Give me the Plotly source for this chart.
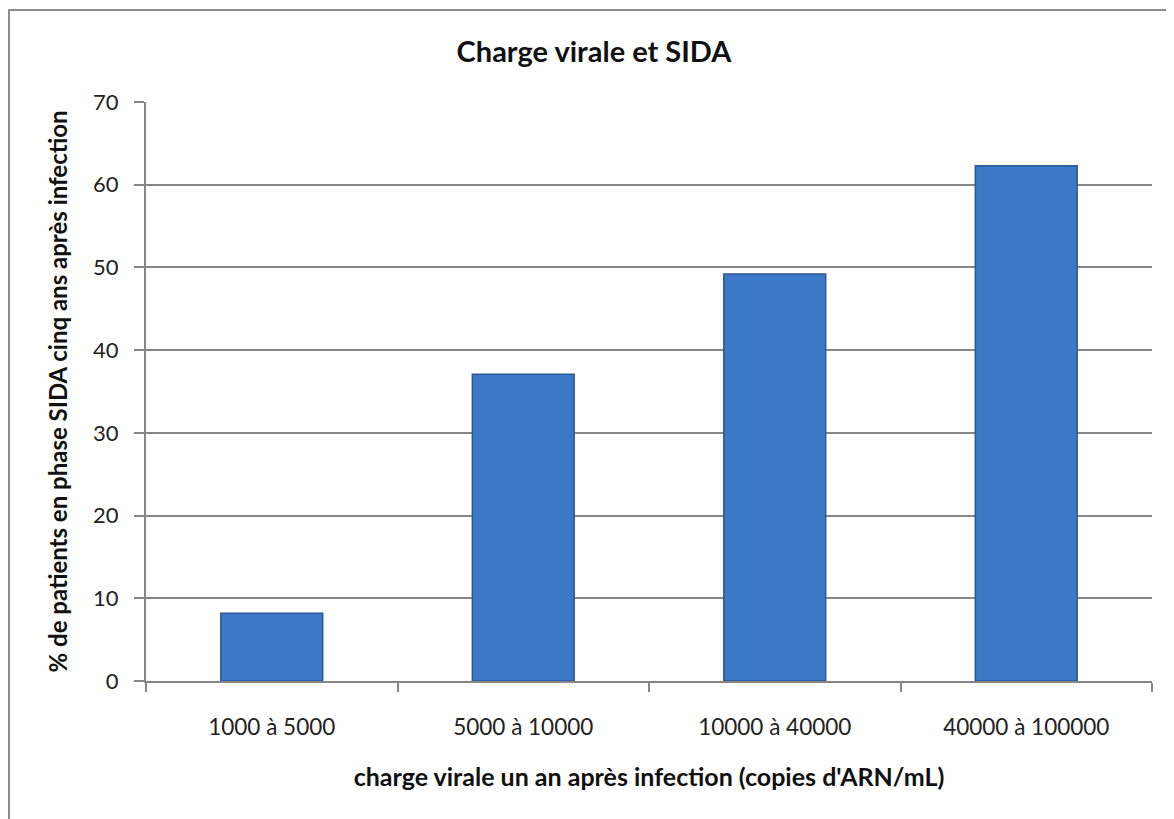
import plotly.graph_objects as go

categories = ["1000 à 5000", "5000 à 10000", "10000 à 40000", "40000 à 100000"]
values = [8.2, 37.1, 49.2, 62.3]
y_ticks = [0, 10, 20, 30, 40, 50, 60, 70]

FONT = "Lato"
L, R, T, B = 138, 30, 94, 146
PW = 1174 - L - R
PH = 819 - T - B

fig = go.Figure()
fig.add_trace(go.Bar(
    x=categories, y=values,
    marker=dict(color="#3b79c7", line=dict(color="#2a5896", width=1.5)),
    width=0.405,
    hoverinfo="x+y",
))

fig.update_layout(
    width=1174, height=819,
    margin=dict(l=L, r=R, t=T, b=B),
    paper_bgcolor="white", plot_bgcolor="white",
    showlegend=False,
    title=dict(text="<b>Charge virale et SIDA</b>", x=586 / 1174, xanchor="center",
               y=1 - 44 / 819, yanchor="middle", yref="container",
               font=dict(family=FONT, size=29, color="#111")),
    font=dict(family=FONT, color="#222"),
)

fig.update_xaxes(
    showline=True, linecolor="#868686", linewidth=2,
    ticks="outside", tickson="boundaries", ticklen=9, tickcolor="#868686", tickwidth=2,
    ticklabelstandoff=25,
    tickfont=dict(family=FONT, size=22.5, color="#222"),
    title=dict(text="<b>charge virale un an après infection (copies d'ARN/mL)</b>",
               font=dict(family=FONT, size=25, color="#111"), standoff=29),
    showgrid=False,
)
fig.update_yaxes(
    range=[0, 70], tickvals=y_ticks,
    showline=True, linecolor="#868686", linewidth=2,
    ticks="outside", ticklen=10, tickcolor="#868686", tickwidth=2,
    ticklabelstandoff=11,
    showgrid=True, gridcolor="#868686", gridwidth=2,
    zeroline=False,
    tickfont=dict(family=FONT, size=22, color="#222"),
    title=dict(text="<b>% de patients en phase SIDA cinq ans après infection</b>",
               font=dict(family=FONT, size=24, color="#111"), standoff=19),
)

# outer chart border (cropped at right/bottom as in reference)
fig.add_shape(type="rect", xref="paper", yref="paper",
              x0=-(L - 1) / PW, x1=1.2, y0=-0.5, y1=1 + (T - 2) / PH,
              line=dict(color="#8c8c8c", width=2), fillcolor="rgba(0,0,0,0)", layer="below")

fig.write_html("out.html")
